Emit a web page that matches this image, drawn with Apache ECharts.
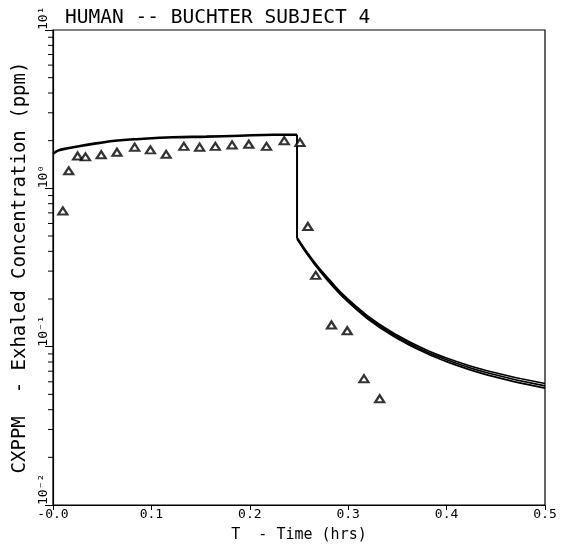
<!DOCTYPE html>
<html>
<head>
<meta charset="utf-8">
<script src="https://cdn.jsdelivr.net/npm/echarts@6/dist/echarts.min.js"></script>
<style>
html,body{margin:0;padding:0;background:#fff;}
#chart{width:564px;height:548px;}
</style>
</head>
<body>
<div id="chart"></div>
<script>
// Observed exhaled concentration (triangles)
const obsTime = [0.010, 0.016, 0.025, 0.033, 0.049, 0.065, 0.083, 0.099, 0.115, 0.133, 0.149, 0.165, 0.182, 0.199, 0.217, 0.235, 0.251, 0.259, 0.267, 0.283, 0.299, 0.316, 0.332];
const obsConc = [0.72, 1.29, 1.60, 1.58, 1.63, 1.69, 1.82, 1.75, 1.64, 1.84, 1.82, 1.84, 1.88, 1.90, 1.84, 2.00, 1.95, 0.574, 0.282, 0.137, 0.126, 0.0628, 0.0469];

// Model prediction during exposure
const riseTime = [0, 0.005, 0.015, 0.029, 0.046, 0.063, 0.088, 0.122, 0.156, 0.190, 0.224, 0.248];
const riseConc = [1.65, 1.73, 1.79, 1.86, 1.93, 2.00, 2.05, 2.10, 2.12, 2.15, 2.18, 2.18];

// End of exposure drop
const dropTime = [0.248, 0.248];
const dropConc = [2.18, 0.484];

// Model predictions after exposure (band of three curves)
const decayTime = [0.248, 0.264, 0.2815, 0.299, 0.332, 0.373, 0.400, 0.441, 0.500];
const decayConcA = [0.490, 0.353, 0.262, 0.202, 0.138, 0.0995, 0.0848, 0.0705, 0.0585];
const decayConcB = [0.484, 0.3475, 0.257, 0.198, 0.135, 0.0971, 0.0826, 0.0684, 0.0565];
const decayConcC = [0.478, 0.342, 0.252, 0.194, 0.132, 0.0948, 0.0805, 0.0664, 0.0547];

// Axis labels
const xTickValues = [0, 0.1, 0.2, 0.3, 0.4, 0.5];
const xTickLabels = ['-0.0', '0.1', '0.2', '0.3', '0.4', '0.5'];
const yTickValues = [0.01, 0.1, 1, 10];
const yTickLabels = ['10\u207B\u00B2', '10\u207B\u00B9', '10\u2070', '10\u00B9'];
const yMinorTicks = [0.02,0.03,0.04,0.05,0.06,0.07,0.08,0.09, 0.2,0.3,0.4,0.5,0.6,0.7,0.8,0.9, 2,3,4,5,6,7,8,9];

const titleText = 'HUMAN -- BUCHTER SUBJECT 4';
const xName = 'T  - Time (hrs)';
const yName = 'CXPPM  - Exhaled Concentration (ppm)';

const FONT = '"DejaVu Sans Mono", monospace';
const zip = (a, b) => a.map((v, i) => [v, b[i]]);

const chart = echarts.init(document.getElementById('chart'), null, {renderer: 'canvas'});

function lineSeries(t, c, w, smooth) {
  return {
    type: 'line', data: zip(t, c), symbol: 'none', smooth: smooth,
    lineStyle: {color: '#000', width: w}, silent: true, animation: false, z: 3
  };
}

chart.setOption({
  animation: false,
  backgroundColor: '#fff',
  title: {
    text: titleText, left: 60, top: 3,
    textStyle: {fontFamily: FONT, fontSize: 19.5, fontWeight: 'normal', color: '#000'}
  },
  grid: {left: 53, right: 19, top: 30, bottom: 33, show: true, borderColor: '#000', borderWidth: 1.2, backgroundColor: 'transparent'},
  xAxis: {
    type: 'value', min: 0, max: 0.5, interval: 0.1,
    name: xName, nameLocation: 'middle', nameGap: 23,
    nameTextStyle: {fontFamily: FONT, fontSize: 15, color: '#000'},
    axisLine: {lineStyle: {color: '#000', width: 1.2}},
    axisTick: {show: true, inside: false, length: 5, lineStyle: {color: '#000'}},
    axisLabel: {
      fontFamily: FONT, fontSize: 13, color: '#000', margin: 3,
      formatter: v => { const i = xTickValues.findIndex(t => Math.abs(t - v) < 1e-9); return i >= 0 ? xTickLabels[i] : ''; }
    },
    splitLine: {show: false}
  },
  yAxis: {
    type: 'log', logBase: 10, min: 0.01, max: 10,
    name: yName, nameLocation: 'middle', nameGap: 20,
    nameTextStyle: {fontFamily: FONT, fontSize: 19, color: '#000'},
    axisLine: {lineStyle: {color: '#000', width: 1.2}},
    axisTick: {show: true, inside: false, length: 8, lineStyle: {color: '#000'}},
    axisLabel: {
      fontFamily: FONT, fontSize: 13, color: '#000', rotate: 90, align: 'left', margin: 3,
      formatter: v => { const i = yTickValues.findIndex(t => Math.abs(Math.log10(t) - Math.log10(v)) < 1e-6); return i >= 0 ? yTickLabels[i] : ''; }
    },
    splitLine: {show: false}
  },
  series: [
    {
      type: 'custom', silent: true, z: 5,
      data: yMinorTicks.map(v => [0, v]),
      renderItem: (params, api) => {
        const p = api.coord([api.value(0), api.value(1)]);
        return {type: 'line', shape: {x1: p[0] - 5, y1: p[1], x2: p[0], y2: p[1]}, style: {stroke: '#000', lineWidth: 1}};
      }
    },
    lineSeries(riseTime, riseConc, 2.6, 0.4),
    lineSeries(dropTime, dropConc, 2, false),
    lineSeries(decayTime, decayConcA, 1.7, 0.5),
    lineSeries(decayTime, decayConcB, 1.7, 0.5),
    lineSeries(decayTime, decayConcC, 1.7, 0.5),
    {
      type: 'scatter', data: zip(obsTime, obsConc), symbol: 'triangle', symbolSize: [9, 7],
      itemStyle: {color: '#fff', borderColor: '#000', borderWidth: 2.2}, silent: true, z: 6
    }
  ]
});
</script>
</body>
</html>
